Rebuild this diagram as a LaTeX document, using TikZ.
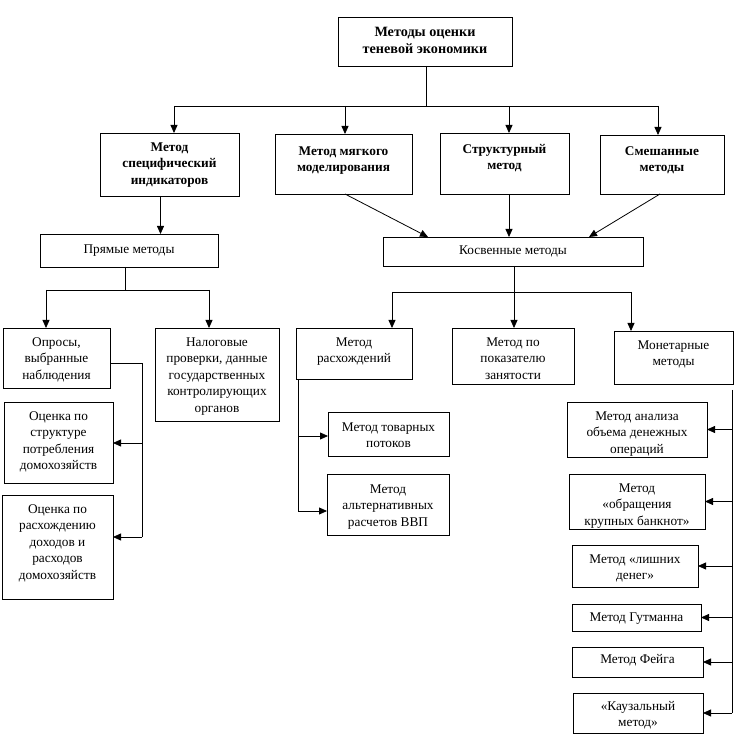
\documentclass[tikz,border=0pt]{standalone}
\usepackage{fontspec}
\setmainfont{Liberation Serif}
\usetikzlibrary{arrows.meta,calc}
\tikzset{
  boxst/.style={draw, inner sep=0pt, outer sep=0pt, anchor=north west, line width=0.9pt,
    font=\fontsize{13.3}{16.5}\selectfont},
  ln/.style={line width=0.8pt},
  arr/.style={ln, -{Triangle[length=8pt,width=7pt]}}
}
% #1 name, #2 x1, #3 y1, #4 x2, #5 y2, #6 top padding, #7 text
\newcommand\bx[7]{%
  \node[boxst] (#1) at (#2,#3) {\parbox[c][\dimexpr #5pt-#3pt\relax][t]{\dimexpr #4pt-#2pt\relax}{\centering\vspace*{\dimexpr #6pt+2.5pt\relax}\strut #7\par}};}
\begin{document}
\begin{tikzpicture}[x=1pt,y=-1pt]
\useasboundingbox (0,0) rectangle (753,743);
% boxes
\bx{top}{338}{17}{512}{66}{5.9}{\fontsize{14.2}{16.5}\selectfont\bfseries Методы оценки\\теневой экономики}
\bx{m1}{100}{133}{239}{196}{4.4}{\bfseries Метод\\специфический\\индикаторов}
\bx{m2}{275}{134}{412}{194}{7.4}{\bfseries Метод мягкого\\моделирования}
\bx{m3}{440}{133}{569}{194}{6.4}{\bfseries Структурный\\метод}
\bx{m4}{600}{135}{724}{194}{6.4}{\bfseries Смешанные\\методы}
\bx{dir}{40}{234}{218}{267}{5.4}{Прямые методы}
\bx{ind}{383}{237}{643}{266}{3.4}{Косвенные методы}
\bx{op}{3}{328}{110}{388}{4.4}{Опросы,\\выбранные\\наблюдения}
\bx{tax}{155}{328}{279}{421}{4.4}{Налоговые\\проверки, данные\\государственных\\контролирующих\\органов}
\bx{s1}{4}{402}{113}{483}{4.4}{Оценка по\\структуре\\потребления\\домохозяйств}
\bx{s2}{2}{495}{113}{599}{4.4}{Оценка по\\расхождению\\доходов и\\расходов\\домохозяйств}
\bx{rz}{296}{328}{412}{379}{4.4}{Метод\\расхождений}
\bx{zn}{452}{328}{574}{384}{4.4}{Метод по\\показателю\\занятости}
\bx{tp}{328}{412}{449}{456}{5.4}{Метод товарных\\потоков}
\bx{alt}{327}{474}{449}{535}{5.4}{Метод\\альтернативных\\расчетов ВВП}
\bx{mon}{614}{331}{733}{384}{4.4}{Монетарные\\методы}
\bx{an}{567}{402}{707}{457}{4.4}{Метод анализа\\объема денежных\\операций}
\bx{obr}{569}{474}{705}{529}{4.4}{Метод\\«обращения\\крупных банкнот»}
\bx{ld}{572}{545}{698}{587}{4.4}{Метод «лишних\\денег»}
\bx{gt}{572}{604}{701}{631}{3.4}{Метод Гутманна}
\bx{fg}{572}{647}{703}{677}{2.4}{Метод Фейга}
\bx{kz}{573}{693}{703}{733}{3.4}{«Каузальный\\метод»}
% top level connectors
\coordinate (tj) at (426,106);
\coordinate (t1) at (174,106);
\coordinate (t2) at (345,106);
\coordinate (t3) at (509,106);
\coordinate (t4) at (658,106);
\draw[ln] (tj |- top.south) -- (tj);
\draw[ln] (t1) -- (t4);
\draw[arr] (t1) -- (t1 |- m1.north);
\draw[arr] (t2) -- (t2 |- m2.north);
\draw[arr] (t3) -- (t3 |- m3.north);
\draw[arr] (t4) -- (t4 |- m4.north);
% to direct / indirect
\coordinate (c1) at (160.5,215);
\draw[arr] (c1 |- m1.south) -- (c1 |- dir.north);
\draw[arr] ($(m2.south)+(1.5,0)$) -- ($(ind.north)+(-85,0)$);
\coordinate (c3) at (509,215);
\draw[arr] (c3 |- m3.south) -- (c3 |- ind.north);
\draw[arr] ($(m4.south)+(-2,0)$) -- ($(ind.north)+(76,0)$);
% direct methods
\coordinate (pj) at (125,290);
\coordinate (pL) at (46,290);
\coordinate (pR) at (209,290);
\draw[ln] (pj |- dir.south) -- (pj);
\draw[ln] (pL) -- (pR);
\draw[arr] (pL) -- (pL |- op.north);
\draw[arr] (pR) -- (pR |- tax.north);
% surveys spine
\coordinate (oa) at (142,363);
\coordinate (oc) at (142,443);
\coordinate (obb) at (142,537);
\draw[ln] (oa -| op.east) -- (oa) -- (obb);
\draw[arr] (oc) -- (oc -| s1.east);
\draw[arr] (obb) -- (obb -| s2.east);
% indirect methods
\coordinate (kj) at (514,292);
\coordinate (kL) at (392,292);
\coordinate (kR) at (631,292);
\draw[ln] (kj |- ind.south) -- (kj);
\draw[ln] (kL) -- (kR);
\draw[arr] (kL) -- (kL |- rz.north);
\draw[arr] (kj) -- (kj |- zn.north);
\draw[arr] (kR) -- (kR |- mon.north);
% discrepancy spine
\coordinate (ra) at (298,379);
\coordinate (rc) at (298,436);
\coordinate (rb) at (298,511);
\draw[ln] (ra |- rz.south) -- (rb);
\draw[arr] (rc) -- (rc -| tp.west);
\draw[arr] (rb) -- (rb -| alt.west);
% monetary spine
\coordinate (ma) at (732,390);
\draw[ln] (ma) -- (ma |- kz.east);
\foreach \b in {an,obr,ld,gt,fg,kz}{
  \draw[arr] (ma |- \b.east) -- (\b.east);
}
\end{tikzpicture}
\end{document}
